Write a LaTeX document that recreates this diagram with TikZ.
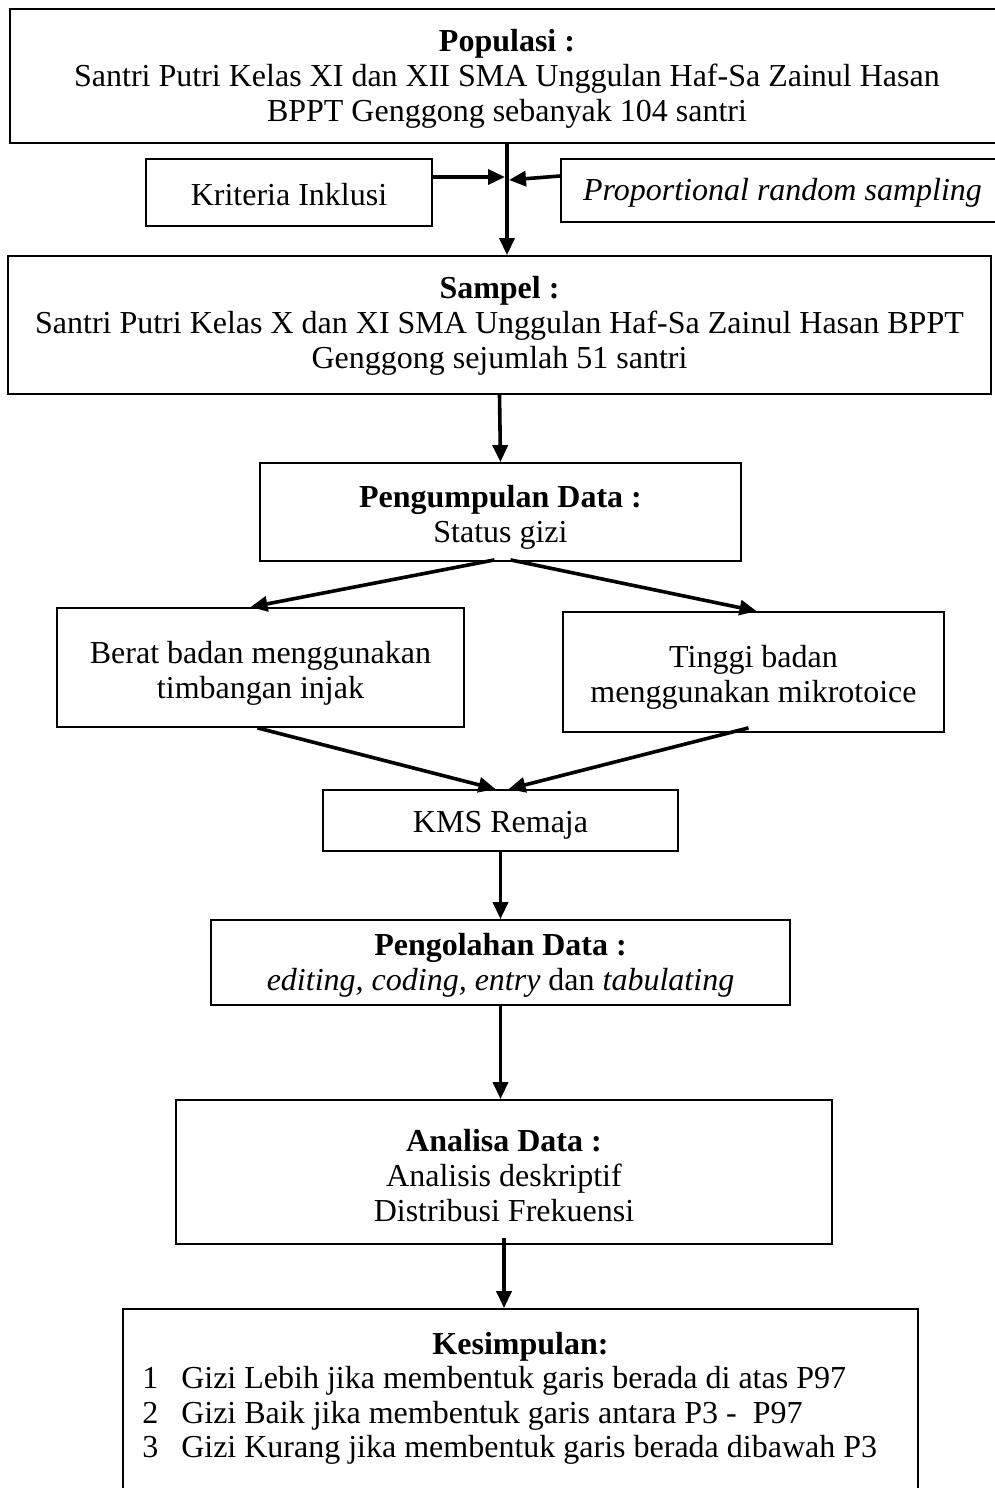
\documentclass[tikz,border=0pt]{standalone}
\usepackage{fontspec}
\setmainfont{Liberation Serif}
\usetikzlibrary{arrows.meta}
\begin{document}
\begin{tikzpicture}[x=1pt,y=-1pt,
  txt/.style={font=\fontsize{32}{35}\selectfont, align=center, inner sep=0pt},
  box/.style={draw=black, line width=1.8pt, rectangle, inner sep=0pt},
  arr/.style={draw=black, line width=3.6pt, -{Triangle[length=17pt,width=15pt]}}]
\useasboundingbox[fill=white] (0,0) rectangle (994,1488);

% boxes
\node[box, minimum width=994pt, minimum height=134pt] (pop) at (507,76) {};
\node[box, minimum width=286pt, minimum height=67pt] (krit) at (289,192.5) {};
\node[box, minimum width=443pt, minimum height=63pt] (prop) at (782.5,190.5) {};
\node[box, minimum width=983pt, minimum height=138pt] (sampel) at (499.5,325) {};
\node[box, minimum width=481pt, minimum height=98pt] (peng) at (500.5,512) {};
\node[box, minimum width=407pt, minimum height=119pt] (berat) at (260.5,667.5) {};
\node[box, minimum width=381pt, minimum height=120pt] (tinggi) at (753.5,672) {};
\node[box, minimum width=355pt, minimum height=61pt] (kms) at (500.5,820.5) {};
\node[box, minimum width=579pt, minimum height=85pt] (olah) at (500.5,962.5) {};
\node[box, minimum width=656pt, minimum height=144pt] (anal) at (504,1172) {};
\node[box, minimum width=795pt, minimum height=215pt] (kes) at (520.5,1416.5) {};

% texts
\node[txt] (popt) at ([yshift=-3pt]pop.center)
  {\textbf{Populasi :}\\Santri Putri Kelas XI dan XII SMA Unggulan Haf-Sa Zainul Hasan\\BPPT Genggong sebanyak 104 santri};
\node[txt] (kritt) at ([yshift=-2pt]krit.center) {Kriteria Inklusi};
\node[txt] (propt) at ([yshift=-2pt]prop.center) {\textit{Proportional random sampling}};
\node[txt] (sampelt) at ([yshift=-1pt]sampel.center)
  {\textbf{Sampel :}\\Santri Putri Kelas X dan XI SMA Unggulan Haf-Sa Zainul Hasan BPPT\\Genggong sejumlah 51 santri};
\node[txt] (pengt) at ([yshift=-5pt]peng.center) {\textbf{Pengumpulan Data :}\\Status gizi};
\node[txt] (beratt) at ([yshift=-6pt]berat.center) {Berat badan menggunakan\\timbangan injak};
\node[txt] (tinggit) at ([yshift=-5pt]tinggi.center) {Tinggi badan\\menggunakan mikrotoice};
\node[txt] (kmst) at ([yshift=-5pt]kms.center) {KMS Remaja};
\node[txt] (olaht) at ([yshift=-3pt]olah.center)
  {\textbf{Pengolahan Data :}\\\textit{editing, coding, entry} dan \textit{tabulating}};
\node[txt] (analt) at ([yshift=-4pt]anal.center)
  {\textbf{Analisa Data :}\\Analisis deskriptif\\Distribusi Frekuensi};
\node[txt, anchor=north] (kesh) at ([yshift=-24pt]kes.north) {\textbf{Kesimpulan:}};
\node[txt, anchor=north west, align=left] (kesl) at ([xshift=20pt,yshift=-58pt]kes.north west)
  {\makebox[39pt][l]{1}Gizi Lebih jika membentuk garis berada di atas P97\\[-0.5pt]
   \makebox[39pt][l]{2}Gizi Baik jika membentuk garis antara P3 -\ \ P97\\[-0.5pt]
   \makebox[39pt][l]{3}Gizi Kurang jika membentuk garis berada dibawah P3};

% connectors
\coordinate (jl) at (505,177);
\coordinate (jr) at (509,180);
\draw[arr] (pop.south) -- (pop.south |- sampel.north);
\draw[arr] (krit.east |- jl) -- (jl);
\draw[arr] ([yshift=14.5pt]prop.west) -- (jr);
\draw[arr] (sampel.south) -- (peng.north);
\draw[arr] ([xshift=-6pt,yshift=2pt]peng.south) -- ([xshift=-10pt]berat.north);
\draw[arr] ([xshift=10pt,yshift=2pt]peng.south) -- ([xshift=3pt]tinggi.north);
\draw[arr] ([xshift=-3pt]berat.south) -- ([xshift=-5pt]kms.north);
\draw[arr] ([xshift=-5pt,yshift=5pt]tinggi.south) -- ([xshift=8pt]kms.north);
\draw[arr] (kms.south) -- (olah.north);
\draw[arr] (olah.south) -- (olah.south |- anal.north);
\draw[arr] ([yshift=7pt]anal.south) -- (anal.south |- kes.north);
\end{tikzpicture}
\end{document}
